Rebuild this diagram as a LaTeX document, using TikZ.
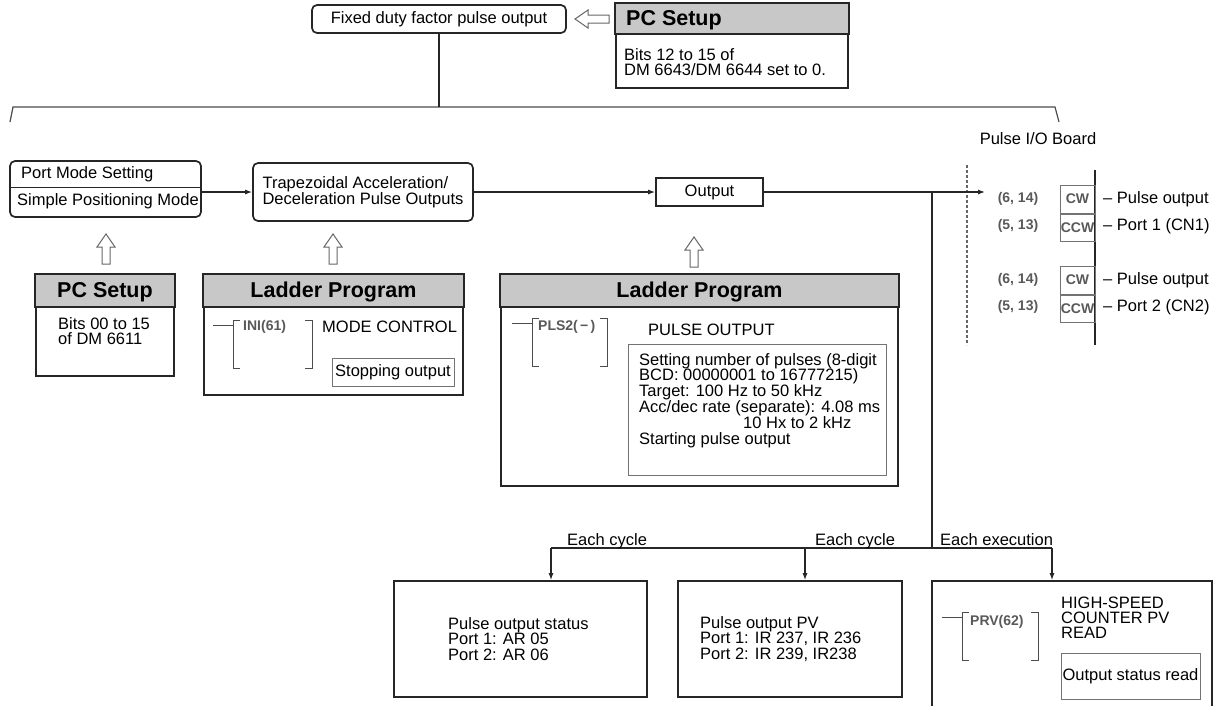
\documentclass[tikz,border=0pt]{standalone}
\usepackage{fontspec}
\setmainfont{Liberation Sans}
\usetikzlibrary{arrows.meta}
\definecolor{ink}{HTML}{262626}
\definecolor{hdr}{HTML}{C8C8C8}

\begin{document}
\begin{tikzpicture}[x=1pt,y=-1pt,>={Latex[length=7pt,width=5pt]},
  font=\fontsize{16.5}{15.8}\selectfont, inner sep=0pt,
  frame/.style={draw=ink,line width=1.7pt},
  rframe/.style={frame,rounded corners=5pt},
  head/.style={font=\fontsize{21.5}{22}\selectfont\bfseries},
  wire/.style={draw=ink,line width=1.2pt},
  hollow/.style={draw=black!60,line width=1pt,fill=white},
  tiny/.style={font=\fontsize{14}{14}\selectfont\bfseries,text=black!65},
  lite/.style={draw=black!55,line width=1pt},
  note/.style={align=left,anchor=north west}]
  \useasboundingbox (0,0) rectangle (1219,705);

  % top row
  \node[rframe,minimum width=254,minimum height=28] (fixed) at (439,19) {Fixed duty factor pulse output};
  \node[frame,minimum width=232,minimum height=84] (topset) at (732,46) {};
  \draw[frame,fill=hdr] (topset.north west) rectangle ([yshift=-31pt]topset.north east);
  \node[head,anchor=west] (topsettitle) at (626,20) {PC Setup};
  \node[note] (topsetbody) at (624,48) {Bits 12 to 15 of\\DM 6643/DM 6644 set to 0.};
  \draw[hollow] (575,19) -- ++(13,-9) -- ++(0,5) -- ++(21,0) -- ++(0,8) -- ++(-21,0) -- ++(0,5) -- cycle;

  \coordinate (bar) at (13,107);
  \draw[wire,draw=black!70] (10,122) -- (bar) -- (1055,107) -- (1059,122);
  \draw[wire] (fixed.south) -- (fixed.south |- bar);

  % mode, profile, output
  \node[rframe,minimum width=191,minimum height=56] (mode) at (105.5,189) {};
  \draw[line width=1pt,draw=ink] (10,187) -- (201,187);
  \node[anchor=west] (modetop) at (21,174) {Port Mode Setting};
  \node[anchor=west] (modebot) at (17,201) {Simple Positioning Mode};
  \node[rframe,minimum width=220,minimum height=58,align=left] (trap) at (363,192)
    {Trapezoidal Acceleration/\\Deceleration Pulse Outputs};
  \node[frame,minimum width=107,minimum height=28] (out) at (709.5,192) {Output};
  \draw[wire,->] (mode.east |- trap.west) -- (trap.west);
  \draw[wire,->] (trap.east) -- (out.west);

  \foreach \cx/\ty in {106/234, 333/234, 694/237}
    \draw[hollow] (\cx,\ty) -- ++(9,13) -- ++(-5,0) -- ++(0,17) -- ++(-8,0) -- ++(0,-17) -- ++(-5,0) -- cycle;

  % setup and ladder boxes
  \node[frame,minimum width=138,minimum height=101] (pcset) at (105,325.5) {};
  \draw[frame,fill=hdr] (pcset.north west) rectangle ([yshift=-33pt]pcset.north east);
  \node[head] (pcsettitle) at (105,292) {PC Setup};
  \node[note] (pcsetbody) at (58,317) {Bits 00 to 15\\of DM 6611};

  \node[frame,minimum width=259,minimum height=120] (ladA) at (333.5,335) {};
  \draw[frame,fill=hdr] (ladA.north west) rectangle ([yshift=-33pt]ladA.north east);
  \node[head] (ladAtitle) at (333.5,292) {Ladder Program};
  \node[tiny,anchor=west] (ini) at (243,327) {INI(61)};
  \node[anchor=west] (modectl) at (322,327) {MODE CONTROL};
  \node[lite,minimum width=122,minimum height=28] (stopout) at (393,372) {Stopping output};

  \node[frame,minimum width=397,minimum height=211] (ladB) at (699.5,380.5) {};
  \draw[frame,fill=hdr] (ladB.north west) rectangle ([yshift=-33pt]ladB.north east);
  \node[head] (ladBtitle) at (699.5,292) {Ladder Program};
  \node[tiny,anchor=west] (pls) at (538,327) {PLS2(\,−\,)};
  \node[anchor=west] (pulseout) at (648,330) {PULSE OUTPUT};
  \node[lite,minimum width=258,minimum height=131] (plsbox) at (757,409.5) {};
  \node[note] (plstext) at (639,353) {Setting number of pulses (8-digit\\
    BCD: 00000001 to 16777215)\\Target: 100 Hz to 50 kHz\\
    Acc/dec rate (separate): 4.08 ms\\\hspace*{104pt}10 Hx to 2 kHz\\Starting pulse output};

  % ladder rungs
  \foreach \lx/\ty/\rx in {233/320/312, 532/318/607, 962/612/1038}
    \draw[line width=1pt,draw=black!70] (\lx-20,\ty+5) -- (\lx,\ty+5)
      (\lx+7,\ty) -- (\lx,\ty) -- (\lx,\ty+48) -- (\lx+7,\ty+48)
      (\rx-7,\ty) -- (\rx,\ty) -- (\rx,\ty+48) -- (\rx-7,\ty+48);

  % pulse I/O board
  \node (board) at (1038,139) {Pulse I/O Board};
  \draw[line width=1.2pt,draw=black!60,dash pattern=on 3pt off 2pt] (967,165) -- (967,345);
  \draw[wire] (1095,170) -- (1095,345);
  \foreach \py/\pn in {199/1, 280/2} {
    \node[lite,minimum width=35,minimum height=28,tiny] (cw\pn) at (1077.5,\py) {CW};
    \node[lite,minimum width=35,minimum height=27,tiny,anchor=north] (ccw\pn) at (cw\pn.south) {CCW};
    \node[tiny] (pin\pn) at (1018,\py) {(6, 14)};
    \node[tiny] (pinb\pn) at (1018,\py+27) {(5, 13)};
    \node[anchor=west] (lab\pn) at (1103,\py) {– Pulse output};
    \node[anchor=west] (labb\pn) at (1103,\py+27) {– Port \pn\ (CN\pn)};
  }
  \coordinate (boardin) at (985,192);
  \draw[wire,->] (out.east) -- (boardin);

  % bottom row
  \node[frame,minimum width=253,minimum height=116] (stat) at (520.5,639) {};
  \node[note] (stattext) at (448,617) {Pulse output status\\Port 1: AR 05\\Port 2: AR 06};
  \node[frame,minimum width=224,minimum height=116] (pv) at (790,639) {};
  \node[note] (pvtext) at (700,616) {Pulse output PV\\Port 1: IR 237, IR 236\\Port 2: IR 239, IR238};
  \node[frame,minimum width=280,minimum height=139] (prv) at (1072,650.5) {};
  \node[tiny,anchor=west] (prvname) at (970,622) {PRV(62)};
  \node[note,font=\fontsize{16.5}{15}\selectfont] (prvtext) at (1061,597) {HIGH-SPEED\\COUNTER PV\\READ};
  \node[lite,minimum width=139,minimum height=46] (readbox) at (1130.5,676) {Output status read};

  \coordinate (tap) at (932,192);
  \coordinate (bus) at (932,548);
  \coordinate (j1) at (551,548);
  \coordinate (j2) at (805,548);
  \coordinate (j3) at (1052,548);
  \draw[wire] (tap) -- (bus);
  \draw[wire] (j1) -- (j3);
  \draw[wire,->] (j1) -- (j1 |- stat.north);
  \draw[wire,->] (j2) -- (j2 |- pv.north);
  \draw[wire,->] (j3) -- (j3 |- prv.north);
  \node[anchor=base west] (cyc1) at (567,545) {Each cycle};
  \node[anchor=base west] (cyc2) at (815,545) {Each cycle};
  \node[anchor=base west] (exe) at (940,545) {Each execution};
\end{tikzpicture}
\end{document}
